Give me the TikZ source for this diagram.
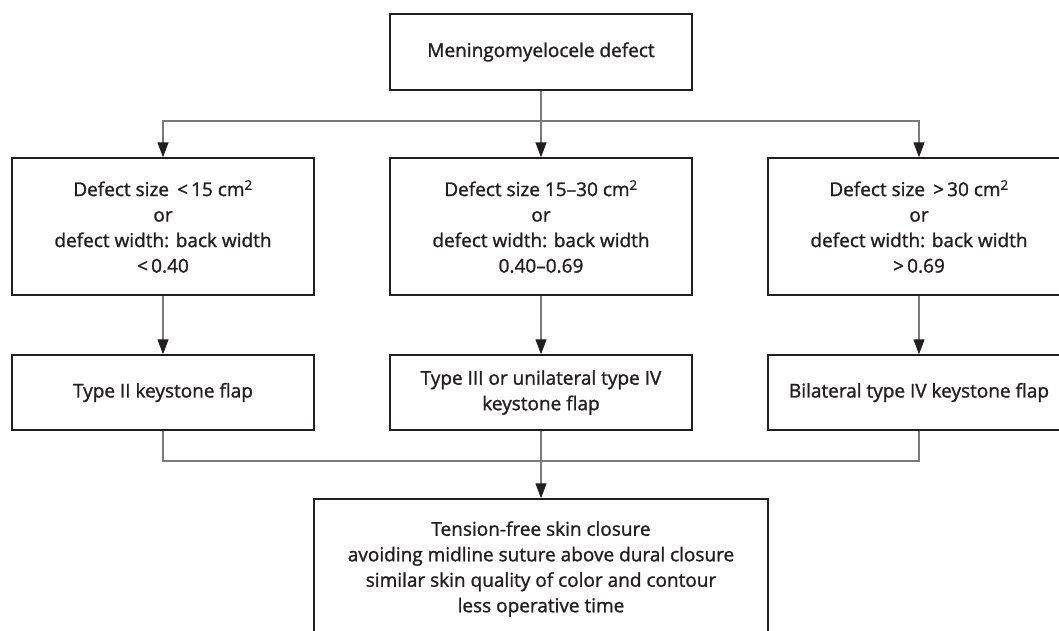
\documentclass[tikz,border=0pt]{standalone}
\usepackage{fontspec}
\setmainfont[FakeBold=1.3]{Open Sans}
\usetikzlibrary{arrows.meta}
\definecolor{ink}{HTML}{231F20}
\definecolor{lin}{HTML}{7A7A7A}
\begin{document}
\begin{tikzpicture}[x=1pt,y=-1pt,
  box/.style={draw=ink,line width=1.4pt,rectangle,inner sep=0pt,align=center,
    text=ink,font=\fontsize{19}{25.5}\selectfont,minimum width=302pt},
  conn/.style={draw=lin,line width=1.2pt},
  arr/.style={conn,-{Triangle[length=15pt,width=11pt,color=ink]}}]
\useasboundingbox (0,0) rectangle (1059,630);
\node[box,minimum height=76pt] (top) at (541,52) {Meningomyelocele defect};
\node[box,minimum height=137pt] (l2) at (163,226.5) {Defect size \,<\,15 cm\textsuperscript{2}\\or\\defect width: back width\\<\,0.40};
\node[box,minimum height=137pt] (m2) at (541,226.5) {Defect size 15--30 cm\textsuperscript{2}\\or\\defect width: back width\\0.40--0.69};
\node[box,minimum height=137pt] (r2) at (919,226.5) {Defect size \,>\,30 cm\textsuperscript{2}\\or\\defect width: back width\\>\,0.69};
\node[box,minimum height=75pt] (l3) at (163,392.5) {Type II keystone flap};
\node[box,minimum height=75pt] (m3) at (541,392.5) {Type III or unilateral type IV\\keystone flap};
\node[box,minimum height=75pt] (r3) at (919,392.5) {Bilateral type IV keystone flap};
\node[box,minimum height=140pt,minimum width=454pt] (bot) at (541,569) {Tension-free skin closure\\avoiding midline suture above dural closure\\similar skin quality of color and contour\\less operative time};
\coordinate (split) at (541,121);
\coordinate (merge) at (541,461);
\draw[conn] (top.south) -- (split);
\draw[arr] (split) -- (m2.north);
\draw[arr] (split) -| (l2.north);
\draw[arr] (split) -| (r2.north);
\draw[arr] (l2.south) -- (l3.north);
\draw[arr] (m2.south) -- (m3.north);
\draw[arr] (r2.south) -- (r3.north);
\draw[conn] (l3.south) |- (merge);
\draw[conn] (r3.south) |- (merge);
\draw[arr] (m3.south) -- (bot.north);
\end{tikzpicture}
\end{document}
